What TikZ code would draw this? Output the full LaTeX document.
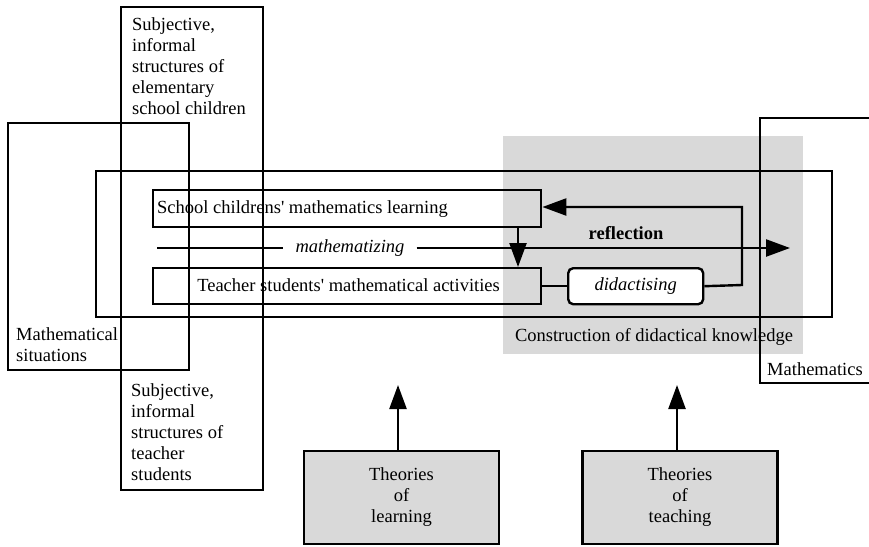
\documentclass[tikz,border=0pt]{standalone}
\usepackage{fontspec}
\setmainfont{Liberation Serif}
\usetikzlibrary{arrows.meta}
\definecolor{bggray}{gray}{0.85}
\tikzset{
  frame/.style={draw=black, line width=2.4pt},
  txt/.style={font=\fontsize{18.5}{21}\selectfont, inner sep=0pt},
  ittxt/.style={font=\fontsize{18.5}{21}\selectfont\itshape, inner sep=0pt},
  tip/.style={-{Triangle[length=24pt,width=17pt]}},
  con/.style={draw=black, line width=2.4pt},
  theory/.style={frame, fill=bggray, minimum width=195pt, minimum height=93pt, txt, align=center},
}
\begin{document}
\begin{tikzpicture}[x=1pt,y=-1pt]
\useasboundingbox (0,0) rectangle (869,546);
% gray construction area
\fill[bggray] (503,136) rectangle (803,354);
\node[txt, anchor=base] (cdk) at (654,341) {Construction of didactical knowledge};
% big frames
\draw[frame] (121,7) rectangle (263,490);
\draw[frame] (8,123) rectangle (189,370);
\draw[frame] (96,171) rectangle (832,317);
\draw[frame] (875,118) -- (760,118) -- (760,383) -- (875,383);
% texts of frames
\node[txt, anchor=north west, align=left] (subc) at (132,17) {Subjective,\\informal\\structures of\\elementary\\school children};
\node[txt, anchor=north west, align=left] (subt) at (131,383) {Subjective,\\informal\\structures of\\teacher\\students};
\node[txt, anchor=north west, align=left] (msit) at (16,327) {Mathematical\\situations};
\node[txt, anchor=base west] (math) at (767,375) {Mathematics};
% inner boxes
\node[frame, minimum width=388pt, minimum height=37pt, anchor=north west] (scl) at (152,189) {};
\node[txt, anchor=base west] (scltxt) at (157,213) {School childrens\textquotesingle{} mathematics learning};
\node[frame, minimum width=388pt, minimum height=36pt, anchor=north west] (tsa) at (152,267) {};
\node[txt, anchor=base east] (tsatxt) at (500,291) {Teacher students\textquotesingle{} mathematical activities};
\node[frame, rounded corners=5pt, fill=white, minimum width=135pt, minimum height=36pt, anchor=north west, ittxt] (did) at (567,267) {didactising};
% mathematizing
\coordinate (mstart) at (157,248);
\coordinate (mend) at (790,248);
\node[ittxt, inner xsep=12pt] (mz) at (350,248) {mathematizing};
\draw[con] (mstart) -- (mz.west);
\draw[con, tip] (mz.east) -- (mend);
\node[txt, font=\fontsize{18.5}{21}\selectfont\bfseries, anchor=base] (refl) at (626,239) {reflection};
% arrows
\draw[con, tip] (scl.south -| 518,0) -- (tsa.north -| 518,0);
\draw[con] (tsa.east) -- (did.west);
\coordinate (rc) at (742,285);
\draw[con, tip] (did.east) -- (rc) -- (742,207) -- (scl.east |- 0,207);
% theories
\node[theory] (tl) at (401.5,497.5) {Theories\\of\\learning};
\node[theory] (tt) at (680,497.5) {Theories\\of\\teaching};
\coordinate (tlend) at (398,385);
\coordinate (ttend) at (677,385);
\draw[con, tip] (tl.north -| tlend) -- (tlend);
\draw[con, tip] (tt.north -| ttend) -- (ttend);
\end{tikzpicture}
\end{document}
